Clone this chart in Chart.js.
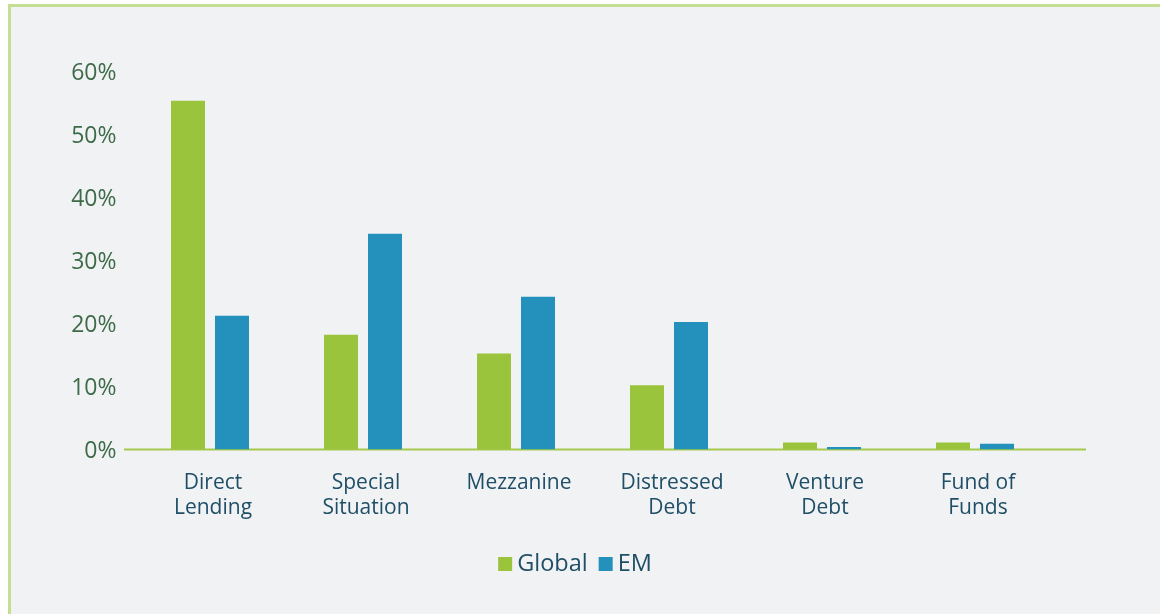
<!DOCTYPE html>
<html>
<head>
<meta charset="utf-8">
<script src="https://cdn.jsdelivr.net/npm/chart.js@4/dist/chart.umd.min.js"></script>
<style>
  html, body { margin: 0; padding: 0; background: #ffffff; }
  #frame { position: absolute; left: 8px; top: 4px; width: 1152px; height: 610px;
           background: #f1f2f4; border-left: 3px solid #c4df91; border-top: 3px solid #c4df91; box-sizing: border-box; }
  #c { position: absolute; left: 0; top: 0; }
</style>
</head>
<body>
<div id="frame"></div>
<canvas id="c" width="1160" height="614"></canvas>
<script>
const categories = [["Direct", "Lending"], ["Special", "Situation"], ["Mezzanine"], ["Distressed", "Debt"], ["Venture", "Debt"], ["Fund of", "Funds"]];
const globalValues = [55.3, 18.2, 15.2, 10.2, 1.1, 1.1];
const emValues = [21.2, 34.2, 24.2, 20.2, 0.4, 0.9];
const seriesNames = ["Global", "EM"];
const yTicks = [0, 10, 20, 30, 40, 50, 60];

const GREEN = "#9bc43d";
const BLUE = "#2391bb";
const FONT = "'Open Sans', 'DejaVu Sans', sans-serif";

const baseline = {
  id: "baseline",
  beforeDatasetsDraw(chart) {
    const ctx = chart.ctx;
    const y = chart.scales.y.getPixelForValue(0);
    ctx.save();
    ctx.strokeStyle = "#a5c94c";
    ctx.lineWidth = 2;
    ctx.beginPath();
    ctx.moveTo(124, y);
    ctx.lineTo(1086, y);
    ctx.stroke();
    ctx.restore();
  }
};

const customLegend = {
  id: "customLegend",
  afterDraw(chart) {
    const ctx = chart.ctx;
    ctx.save();
    ctx.font = "23.5px " + FONT;
    ctx.textBaseline = "middle";
    const box = 14, gapText = 5, gapItem = 11;
    const items = chart.data.datasets.map(d => ({ label: d.label, color: d.backgroundColor }));
    let total = 0;
    items.forEach((it, i) => {
      it.w = box + gapText + ctx.measureText(it.label).width;
      total += it.w + (i ? gapItem : 0);
    });
    let x = 575 - total / 2;
    const yc = 564;
    items.forEach(it => {
      ctx.fillStyle = it.color;
      ctx.fillRect(x, yc - box / 2, box, box);
      ctx.fillStyle = "#1f4e66";
      ctx.textAlign = "left";
      ctx.fillText(it.label, x + box + gapText, yc);
      x += it.w + gapItem;
    });
    ctx.restore();
  }
};

new Chart(document.getElementById("c"), {
  type: "bar",
  data: {
    labels: categories,
    datasets: [
      { label: seriesNames[0], data: globalValues, backgroundColor: GREEN },
      { label: seriesNames[1], data: emValues, backgroundColor: BLUE }
    ]
  },
  options: {
    responsive: false,
    animation: false,
    devicePixelRatio: 1,
    layout: { padding: { left: 0, right: 108.5, top: 71, bottom: 74 } },
    datasets: { bar: { categoryPercentage: 0.575, barPercentage: 0.773 } },
    plugins: { legend: { display: false }, tooltip: { enabled: false } },
    scales: {
      x: {
        grid: { display: false, drawTicks: false },
        border: { display: false },
        ticks: { color: "#1f4e66", font: { family: FONT, size: 21, lineHeight: 1.19 }, padding: 21, labelOffset: 3, maxRotation: 0, autoSkip: false },
        afterFit(scale) { scale.height = 90.5; }
      },
      y: {
        min: 0, max: 60,
        afterBuildTicks(scale) { scale.ticks = yTicks.map(v => ({ value: v })); },
        grid: { display: false, drawTicks: false },
        border: { display: false },
        ticks: { color: "#3d6a48", font: { family: FONT, size: 23 }, padding: 17, labelOffset: 2, callback: v => v + "%" },
        afterFit(scale) { scale.width = 133.5; }
      }
    }
  },
  plugins: [baseline, customLegend]
});
</script>
</body>
</html>
